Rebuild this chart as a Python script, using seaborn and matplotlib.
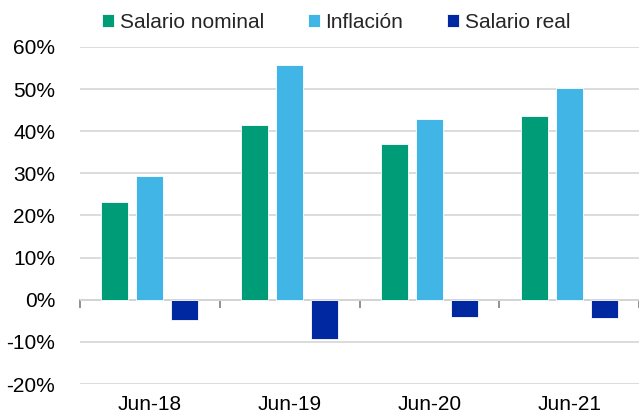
import matplotlib
matplotlib.use("Agg")
from matplotlib import pyplot as plt
from matplotlib.ticker import PercentFormatter
import pandas as pd
import seaborn as sns

fechas = ["Jun-18", "Jun-19", "Jun-20", "Jun-21"]
salario_nominal = [23.2, 41.5, 36.9, 43.7]
inflacion = [29.4, 55.7, 42.8, 50.2]
salario_real = [-4.7, -9.2, -4.0, -4.3]

series = ["Salario nominal", "Inflación", "Salario real"]
colores = ["#009B77", "#41B6E6", "#0028A0"]

df = pd.DataFrame({
    "fecha": fechas * 3,
    "serie": [s for s in series for _ in fechas],
    "valor": salario_nominal + inflacion + salario_real,
})

sns.set_style("white")
plt.rcParams["font.family"] = ["Liberation Sans", "DejaVu Sans"]
plt.rcParams["axes.unicode_minus"] = False

fig = plt.figure(figsize=(6.39, 4.19), dpi=100)
ax = fig.add_axes([80 / 639, 1 - 384 / 419, 1 - 80 / 639, (384 - 47) / 419])

sns.barplot(data=df, x="fecha", y="valor", hue="serie", palette=colores,
            saturation=1, width=0.75, gap=0.23, ax=ax, legend=True,
            edgecolor="white", linewidth=0.6)

ax.set_ylim(-20, 60)
ax.set_xlim(-0.5, 3.5)
ax.set_yticks(range(-20, 61, 10))
ax.yaxis.set_major_formatter(PercentFormatter(decimals=0))
ax.grid(axis="y", color="#D9D9D9", linewidth=1.3)
ax.set_axisbelow(True)
for s in ax.spines.values():
    s.set_visible(False)
ax.set_xlabel("")
ax.set_ylabel("")
ax.tick_params(axis="both", length=0, labelsize=15, colors="black")
ax.tick_params(axis="y", pad=18)
ax.tick_params(axis="x", pad=8)

# eje de categorías en 0%
sec = ax.secondary_xaxis(0.25)
sec.set_xticks([-0.5, 0.5, 1.5, 2.5, 3.5])
sec.set_xticklabels([])
sec.tick_params(length=6, width=1.2, color="#7F7F7F", direction="out")
sec.spines["bottom"].set_color("#A6A6A6")
sec.spines["bottom"].set_linewidth(1.3)
for k in ["top", "left", "right"]:
    sec.spines[k].set_visible(False)

handles, labels = ax.get_legend_handles_labels()
ax.get_legend().remove()
fig.legend(handles, labels, loc="center", bbox_to_anchor=(336 / 639, 1 - 22 / 419),
           ncol=3, frameon=False, fontsize=15, handlelength=0.6, handleheight=0.6,
           handletextpad=0.25, columnspacing=2.1)

fig.savefig("out.png", dpi=100)
